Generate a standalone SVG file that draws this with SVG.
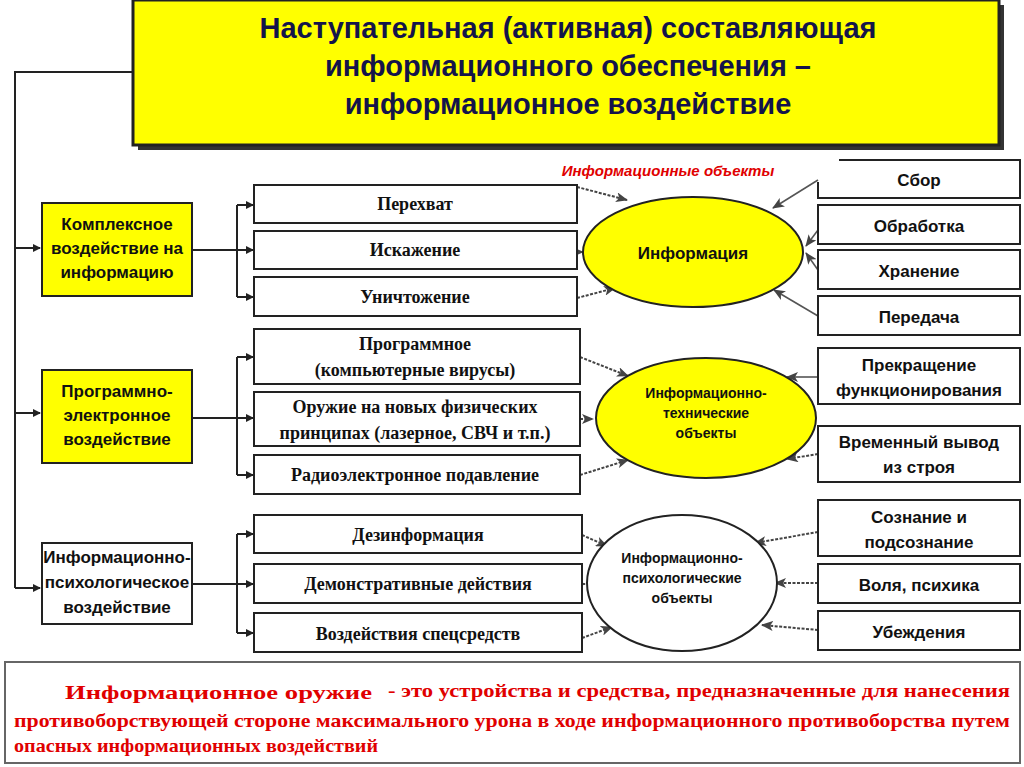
<svg xmlns="http://www.w3.org/2000/svg" width="1024" height="767" viewBox="0 0 1024 767">
<style>
.b{fill:#fff;stroke:#222;stroke-width:2}
.y{fill:#ffff00;stroke:#222;stroke-width:2}
.s{font-family:"Liberation Sans",Arial,sans-serif;font-weight:bold;fill:#111;text-anchor:middle}
.t{font-family:"Liberation Serif","Times New Roman",serif;font-weight:bold;fill:#111;text-anchor:middle;font-size:18px}
.c{fill:none;stroke:#222;stroke-width:2}
.d{fill:none;stroke:#444;stroke-width:2;stroke-dasharray:3 1.5}
.g{fill:none;stroke:#555;stroke-width:1.6}
.r{font-family:"Liberation Serif","Times New Roman",serif;font-weight:bold;fill:#e00000;font-size:19px}
</style>
<defs>
<marker id="a" markerWidth="8" markerHeight="8" refX="7" refY="4" orient="auto" markerUnits="userSpaceOnUse"><path d="M0,0 L8,4 L0,8 z" fill="#222"/></marker>
<marker id="a2" markerWidth="12" markerHeight="10" refX="11" refY="5" orient="auto" markerUnits="userSpaceOnUse"><path d="M0,0 L12,5 L0,10 L3,5 z" fill="#444"/></marker>
</defs>
<rect x="0" y="0" width="1024" height="767" fill="#fff"/>
<g id="title">
<rect x="138" y="5" width="866" height="145" fill="#333"/>
<rect x="133" y="0" width="866" height="145" fill="#ffff00" stroke="#222" stroke-width="3"/>
<text class="s" font-size="29" fill="#14144a" x="568" y="38" style="fill:#14144a">Наступательная (активная) составляющая</text>
<text class="s" font-size="29" x="568" y="76" style="fill:#14144a">информационного обеспечения –</text>
<text class="s" font-size="29" x="568" y="114" style="fill:#14144a">информационное воздействие</text>
</g>
<text x="668" y="176" font-family="Liberation Sans,Arial,sans-serif" font-weight="bold" font-style="italic" font-size="15" fill="#e00000" text-anchor="middle">Информационные объекты</text>
<g id="connectors">
<path class="c" d="M133,72 H15 V588" stroke-width="3"/>
<path class="c" d="M15,248 H40" stroke-width="3" marker-end="url(#a)"/>
<path class="c" d="M15,413 H40" stroke-width="3" marker-end="url(#a)"/>
<path class="c" d="M15,588 H40" stroke-width="3" marker-end="url(#a)"/>
<path class="c" d="M192,250 H237 M237,205 V297"/>
<path class="c" d="M237,205 H253" marker-end="url(#a)"/><path class="c" d="M237,250 H253" marker-end="url(#a)"/><path class="c" d="M237,297 H253" marker-end="url(#a)"/>
<path class="c" d="M192,418 H237 M237,357 V475"/>
<path class="c" d="M237,357 H253" marker-end="url(#a)"/><path class="c" d="M237,418 H253" marker-end="url(#a)"/><path class="c" d="M237,475 H253" marker-end="url(#a)"/>
<path class="c" d="M192,584 H237 M237,534 V633"/>
<path class="c" d="M237,534 H253" marker-end="url(#a)"/><path class="c" d="M237,584 H253" marker-end="url(#a)"/><path class="c" d="M237,633 H253" marker-end="url(#a)"/>
<path class="d" d="M577,187 L627,200" marker-end="url(#a2)"/>
<path class="d" d="M577,252 L583,252" marker-end="url(#a2)"/>
<path class="d" d="M577,298 L615,288" marker-end="url(#a2)"/>
<path class="d" d="M580,357 L628,376" marker-end="url(#a2)"/>
<path class="d" d="M580,419 L593,419" marker-end="url(#a2)"/>
<path class="d" d="M580,475 L628,460" marker-end="url(#a2)"/>
<path class="d" d="M582,535 L607,546" marker-end="url(#a2)"/>
<path class="d" d="M582,584 L585,584" marker-end="url(#a2)"/>
<path class="d" d="M582,638 L612,627" marker-end="url(#a2)"/>
<path class="g" d="M818,180 L773,208" marker-end="url(#a2)"/>
<path class="g" d="M818,230 L806,246" marker-end="url(#a2)"/>
<path class="g" d="M818,270 L806,253" marker-end="url(#a2)"/>
<path class="g" d="M818,316 L774,290" marker-end="url(#a2)"/>
<path class="g" d="M818,377 L787,377" marker-end="url(#a2)"/>
<path class="d" d="M818,454 L787,459" marker-end="url(#a2)"/>
<path class="d" d="M818,532 L755,543" marker-end="url(#a2)"/>
<path class="d" d="M818,583 L775,583" marker-end="url(#a2)"/>
<path class="d" d="M818,630 L762,625" marker-end="url(#a2)"/>
</g>
<g id="n-kompl"><rect class="y" x="42" y="203" width="150" height="93"/><text class="s" font-size="17" x="117" y="230">Комплексное</text><text class="s" font-size="17" x="117" y="254">воздействие на</text><text class="s" font-size="17" x="117" y="278">информацию</text></g>
<g id="n-progr"><rect class="y" x="42" y="370" width="150" height="93"/><text class="s" font-size="17" x="117" y="397">Программно-</text><text class="s" font-size="17" x="117" y="421">электронное</text><text class="s" font-size="17" x="117" y="445">воздействие</text></g>
<g id="n-psych"><rect class="b" x="42" y="543" width="150" height="81"/><text class="s" font-size="17" font-weight="normal" x="117" y="563">Информационно-</text><text class="s" font-size="17" font-weight="normal" x="117" y="588">психологическое</text><text class="s" font-size="17" font-weight="normal" x="117" y="613">воздействие</text></g>
<g id="n1"><rect class="b" x="254" y="185" width="323" height="38"/><text class="t" x="415" y="210">Перехват</text></g>
<g id="n2"><rect class="b" x="254" y="231" width="323" height="38"/><text class="t" x="415" y="256">Искажение</text></g>
<g id="n3"><rect class="b" x="254" y="277" width="323" height="39"/><text class="t" x="415" y="303">Уничтожение</text></g>
<g id="n4"><rect class="b" x="254" y="329" width="326" height="55"/><text class="t" x="415" y="350">Программное</text><text class="t" x="415" y="376">(компьютерные вирусы)</text></g>
<g id="n5"><rect class="b" x="254" y="392" width="326" height="54"/><text class="t" x="415" y="413">Оружие на новых физических</text><text class="t" x="415" y="439">принципах (лазерное, СВЧ и т.п.)</text></g>
<g id="n6"><rect class="b" x="254" y="455" width="326" height="39"/><text class="t" x="415" y="481">Радиоэлектронное подавление</text></g>
<g id="n7"><rect class="b" x="254" y="515" width="328" height="38"/><text class="t" x="418" y="541">Дезинформация</text></g>
<g id="n8"><rect class="b" x="254" y="564" width="328" height="39"/><text class="t" x="418" y="590">Демонстративные действия</text></g>
<g id="n9"><rect class="b" x="254" y="613" width="328" height="39"/><text class="t" x="418" y="640">Воздействия спецсредств</text></g>
<g id="e1"><ellipse class="y" cx="693" cy="252" rx="110" ry="55"/><text class="s" font-size="17" x="693" y="259">Информация</text></g>
<g id="e2"><ellipse class="y" cx="706" cy="418" rx="110" ry="60"/><text class="s" font-size="14" font-weight="normal" x="706" y="398">Информационно-</text><text class="s" font-size="14" font-weight="normal" x="706" y="418">технические</text><text class="s" font-size="14" font-weight="normal" x="706" y="438">объекты</text></g>
<g id="e3"><ellipse class="b" cx="682" cy="583" rx="95" ry="68"/><text class="s" font-size="14" font-weight="normal" x="682" y="563">Информационно-</text><text class="s" font-size="14" font-weight="normal" x="682" y="583">психологические</text><text class="s" font-size="14" font-weight="normal" x="682" y="603">объекты</text></g>
<g id="r1"><path d="M839,160 H1020 V198 H818 V182" class="b"/><text class="s" font-size="17" x="919" y="186">Сбор</text></g>
<g id="r2"><rect class="b" x="818" y="205" width="202" height="39"/><text class="s" font-size="17" x="919" y="232">Обработка</text></g>
<g id="r3"><rect class="b" x="818" y="250" width="202" height="39"/><text class="s" font-size="17" x="919" y="277">Хранение</text></g>
<g id="r4"><rect class="b" x="818" y="296" width="202" height="39"/><text class="s" font-size="17" x="919" y="323">Передача</text></g>
<g id="r5"><rect class="b" x="818" y="348" width="202" height="56"/><text class="s" font-size="17" x="919" y="371">Прекращение</text><text class="s" font-size="17" x="919" y="396">функционирования</text></g>
<g id="r6"><rect class="b" x="818" y="426" width="202" height="56"/><text class="s" font-size="17" x="919" y="448">Временный вывод</text><text class="s" font-size="17" x="919" y="473">из строя</text></g>
<g id="r7"><rect class="b" x="818" y="500" width="202" height="56"/><text class="s" font-size="17" x="919" y="523">Сознание и</text><text class="s" font-size="17" x="919" y="548">подсознание</text></g>
<g id="r8"><rect class="b" x="818" y="564" width="202" height="39"/><text class="s" font-size="17" x="919" y="591">Воля, психика</text></g>
<g id="r9"><rect class="b" x="818" y="611" width="202" height="39"/><text class="s" font-size="17" x="919" y="638">Убеждения</text></g>
<g id="def">
<rect x="5" y="662" width="1015" height="101" fill="#fff" stroke="#666" stroke-width="2"/>
<text class="r" font-size="25" x="65" y="699" textLength="307" lengthAdjust="spacingAndGlyphs">Информационное оружие</text>
<text class="r" x="388" y="697" textLength="622" lengthAdjust="spacingAndGlyphs">- это устройства и средства, предназначенные для нанесения</text>
<text class="r" x="14" y="727" textLength="996" lengthAdjust="spacingAndGlyphs">противоборствующей стороне максимального урона в ходе информационного противоборства путем</text>
<text class="r" x="14" y="752" textLength="364" lengthAdjust="spacingAndGlyphs">опасных информационных воздействий</text>
</g>
</svg>
